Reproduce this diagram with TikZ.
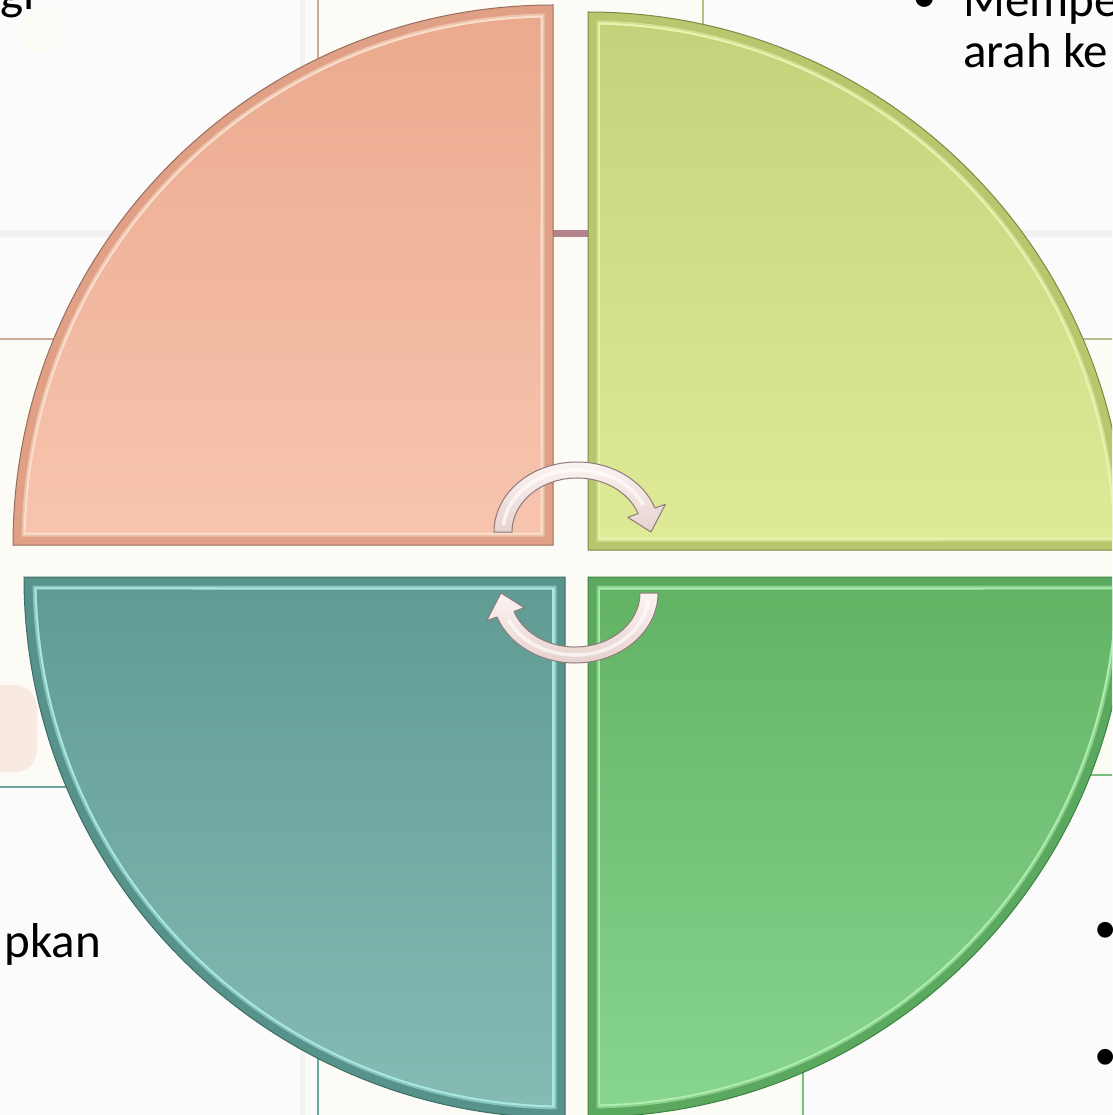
\documentclass[tikz,border=0pt]{standalone}
\usepackage{fontspec}
\setmainfont{Carlito}
\newfontfamily\bulfont{Liberation Sans}
\definecolor{bgcream}{HTML}{FDFBF6}
\definecolor{boxwhite}{HTML}{FBFBFB}
\definecolor{tlbox}{HTML}{CFAA96}
\definecolor{trbox}{HTML}{B4BE8A}
\definecolor{blbox}{HTML}{66A69E}
\definecolor{brbox}{HTML}{78BE7C}
\definecolor{faint}{HTML}{F4F2F1}
\definecolor{mauve}{HTML}{B5838B}
\definecolor{blob}{HTML}{F9E9E3}
\definecolor{tlrim}{HTML}{E0A085}
\definecolor{tltop}{HTML}{EAAA8E}
\definecolor{tlbot}{HTML}{F8C4AE}
\definecolor{tlline}{HTML}{9A6E5E}
\definecolor{tlhi}{HTML}{FFF0DE}
\definecolor{trrim}{HTML}{B8C76E}
\definecolor{trtop}{HTML}{C4D37B}
\definecolor{trbot}{HTML}{DFEA96}
\definecolor{trline}{HTML}{7C8A48}
\definecolor{trhi}{HTML}{F6FFC2}
\definecolor{blrim}{HTML}{58938B}
\definecolor{bltop}{HTML}{609C94}
\definecolor{blbot}{HTML}{86BBB4}
\definecolor{blline}{HTML}{3C6C66}
\definecolor{blhi}{HTML}{BDFFF7}
\definecolor{brrim}{HTML}{5BA85F}
\definecolor{brtop}{HTML}{63B365}
\definecolor{brbot}{HTML}{88D58E}
\definecolor{brline}{HTML}{3D8444}
\definecolor{brhi}{HTML}{C4FFC4}
\definecolor{arrtop}{HTML}{FCF4F2}
\definecolor{arrbot}{HTML}{E6D2CE}
\definecolor{arrline}{HTML}{8E7A78}
\newcommand\qwedge[6]{%
  \pgfmathsetmacro\qwA{asin(#6/(#4-#6))}%
  \pgfmathsetmacro\qwR{#4-#6}%
  \path[#1] ([shift={(#2,#3)}]{#5+45}:{#6*1.41421}) --
    ([shift={(#2,#3)}]{#5+\qwA}:\qwR)
    arc[start angle={#5+\qwA}, end angle={#5+90-\qwA}, radius=\qwR] -- cycle;}
% bevelled quadrant: #1 prefix, #2 cx, #3 cy, #4 R, #5 start angle
\newcommand\bevelq[5]{%
  \qwedge{fill=#1rim, draw=#1line, line width=1pt}{#2}{#3}{#4}{#5}{0}
  \qwedge{fill=#1rim!55!#1hi}{#2}{#3}{#4}{#5}{8.5}
  \qwedge{fill=#1hi!80!#1rim}{#2}{#3}{#4}{#5}{10.5}
  \qwedge{top color=#1top, bottom color=#1bot}{#2}{#3}{#4}{#5}{12.5}}
\newcommand\cycarrow[1]{%
  \begin{scope}[#1]
    \path[arrowsty] (-65,0) -- (-83,0)
      arc[start angle=180, end angle=340, x radius=83, y radius=70]
      -- (340:94 and 81) -- (74,0) -- (340:54 and 43) -- (340:65 and 54)
      arc[start angle=340, end angle=180, x radius=65, y radius=54] -- cycle;
    \draw[white, line width=3.5, opacity=0.65] (186:74 and 62)
      arc[start angle=186, end angle=334, x radius=74, y radius=62];
  \end{scope}}
\tikzset{
  txt/.style={inner sep=0pt, font=\fontsize{49}{51}\selectfont, text=black},
  bul/.style={inner sep=0pt, font=\bulfont\fontsize{58}{60}\selectfont, text=black},
  arrowsty/.style={top color=arrtop, bottom color=arrbot, draw=arrline, line width=1pt, line join=round},
  boxsty/.style={fill=boxwhite, line width=1.3pt}
}
\begin{document}
\begin{tikzpicture}[x=1pt,y=-1pt]
\useasboundingbox (0,0) rectangle (1112,1115);
\clip (0,0) rectangle (1112,1115);
% background
\fill[bgcream] (0,0) rectangle (1112,1115);
\path[boxsty, draw=tlbox] (-10,-10) rectangle (318,339);
\path[boxsty, draw=trbox] (703,-10) rectangle (1122,339);
\path[boxsty, draw=blbox] (-10,787) rectangle (318,1125);
\path[boxsty, draw=brbox] (803,775) rectangle (1122,1125);
\fill[faint] (300,0) rectangle (305,337);
\fill[faint] (300,789) rectangle (305,1115);
\fill[faint] (0,230) rectangle (300,237);
\fill[faint] (704,230) rectangle (1112,237);
\fill[mauve] (553,230) rectangle (588,237);
\fill[blob, rounded corners=22pt] (-30,685) rectangle (37,772);
\fill[bgcream] (42,30) circle (23);
% quadrants
\bevelq{tl}{553}{545}{540}{180}
\bevelq{tr}{588}{550}{538}{270}
\bevelq{bl}{565}{577}{541}{90}
\bevelq{br}{588}{577}{540}{0}
% cycle arrows
\cycarrow{shift={(577,532)}}
\cycarrow{shift={(575,593)}, rotate=180}
% texts
\node[txt, anchor=base east] (tgi) at (35,10) {gi};
\node[txt, anchor=base] (tb0) at (925,13) {•};
\node[txt, anchor=base west] (tm) at (963,17) {Mempe};
\node[txt, anchor=base west] (ta) at (963,68) {arah ke};
\node[txt, anchor=base east] (tp) at (101,957) {pkan};
\node[bul] (b1) at (1106,936) {•};
\node[bul] (b2) at (1106,1063) {•};
\end{tikzpicture}
\end{document}
